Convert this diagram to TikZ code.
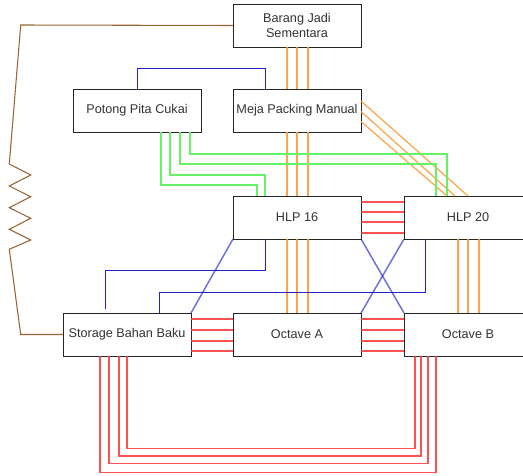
\documentclass[tikz,border=0pt]{standalone}
\usepackage{fontspec}
\setmainfont{Liberation Sans}
\usetikzlibrary{calc}
\definecolor{boxtext}{HTML}{333333}
\definecolor{redline}{HTML}{FF3333}
\definecolor{orangeline}{HTML}{FF9933}
\definecolor{greenline}{HTML}{66F266}
\definecolor{blueline}{HTML}{2222CC}
\definecolor{brownline}{HTML}{996633}
\begin{document}
\begin{tikzpicture}[x=0.75pt,y=-0.75pt,
    machine/.style={draw=black!85, fill=white, line width=0.75pt, minimum width=96pt,
        minimum height=32.25pt, inner sep=0pt, outer sep=0pt, align=center,
        text=boxtext, font=\fontsize{9.5}{11.25}\selectfont},
    flowred/.style={draw=redline, line width=0.9pt, opacity=0.85},
    floworange/.style={draw=orangeline, line width=0.9pt, opacity=0.9},
    flowgreen/.style={draw=greenline, line width=0.8pt},
    flowblue/.style={draw=blueline, line width=0.7pt},
    flowbluediag/.style={draw=blueline, line width=1.1pt, opacity=0.65},
    flowbrown/.style={draw=brownline, line width=0.8pt}]
    \useasboundingbox (0,0) rectangle (523,475);
    % mesin
    \node[machine](bjs)at(297,25.5){Barang Jadi\\Sementara};
    \node[machine](ppc)at(137,110.5){Potong Pita Cukai};
    \node[machine](mpm)at(297,110.5){Meja Packing Manual};
    \node[machine](h16)at(297,217.5){HLP 16};
    \node[machine](h20)at(468,217.5){HLP 20};
    \node[machine](sbb)at(127,334.5){Storage Bahan Baku};
    \node[machine](oca)at(297,334.5){Octave A};
    \node[machine](ocb)at(468,334.5){Octave B};
    % pegas
    \path[flowbrown, line join=miter](bjs.west)--(20.7,25)--(9.3,164)--(30.7,175)--(9.3,186)
        --(30.7,196.7)--(9.3,207.7)--(30.7,218.3)--(9.3,229.3)--(30.7,240)--(9.3,249.3)
        --(20.7,334.5)--(sbb.west);
    % aliran oranye
    \foreach \d in {-10,0,11}
    {
        \path[floworange]($(bjs.south)+(\d,0)$)to($(mpm.north)+(\d,0)$);
        \path[floworange]($(mpm.south)+(\d,0)$)to($(h16.north)+(\d,0)$);
        \path[floworange]($(h16.south)+(\d,0)$)to($(oca.north)+(\d,0)$);
        \path[floworange]($(h20.south)+(\d,0)$)to($(ocb.north)+(\d,0)$);
    }
    \foreach \a/\b in {-9.5/0,1/-13,11/-21}
    {
        \path[floworange]($(mpm.east)+(0,\a)$)to($(h20.north)+(\b,0)$);
    }
    % aliran hijau
    \foreach \a/\d/\b in {24/53/-40,33/43/-32}
    {
        \path[flowgreen]($(ppc.south)+(\a,0)$)--++(0,\d)-|($(h16.north)+(\b,0)$);
    }
    \foreach \a/\d/\b in {43/32/-32,53/22/-21}
    {
        \path[flowgreen]($(ppc.south)+(\a,0)$)--++(0,\d)-|($(h20.north)+(\b,0)$);
    }
    % aliran biru
    \path[flowblue](ppc.north)--++(0,-21)-|($(mpm.north)+(-32,0)$);
    \path[flowblue]($(h16.south)+(-32,0)$)--++(0,31.7)-|($(sbb.north)+(-22,-4)$);
    \path[flowblue]($(h20.south)+(-43,0)$)--++(0,53)-|($(sbb.north)+(32,0)$);
    \path[flowbluediag](h16.south west)to(sbb.north east);
    \path[flowbluediag](h16.south east)to(ocb.north west);
    \path[flowbluediag](h20.south west)to(oca.north east);
    % aliran merah
    \foreach \d in {-15.5,-5.5,4.5,15.5}
    {
        \path[flowred]($(h16.east)+(0,\d)$)to($(h20.west)+(0,\d)$);
    }
    \foreach \d in {-15.5,-4.5,6.5,16.5}
    {
        \path[flowred]($(sbb.east)+(0,\d)$)to($(oca.west)+(0,\d)$);
        \path[flowred]($(oca.east)+(0,\d)$)to($(ocb.west)+(0,\d)$);
    }
    \foreach \a/\b/\d in {0/-53/92.7,-8/-47/100,-18/-40/107.3,-27/-32/116.7}
    {
        \path[flowred]($(sbb.south)+(\a,0)$)--++(0,\d)-|($(ocb.south)+(\b,0)$);
    }
\end{tikzpicture}
\end{document}
